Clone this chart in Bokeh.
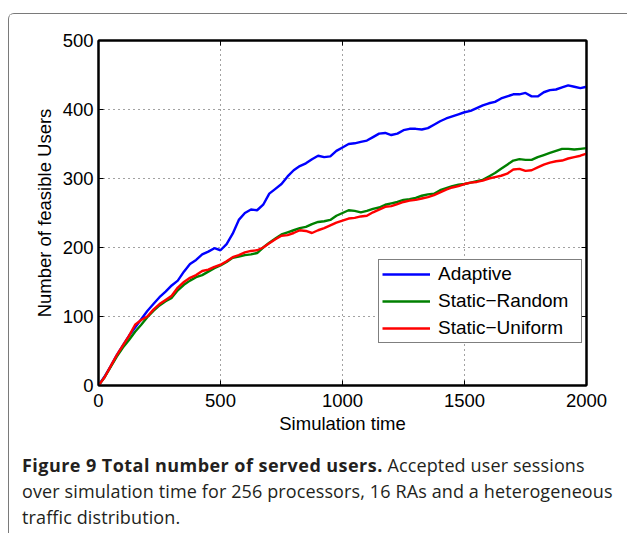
from bokeh.plotting import figure
from bokeh.layouts import column
from bokeh.models import (Range1d, LinearAxis, Legend, LegendItem, Div,
                          FixedTicker, ColumnDataSource)
from bokeh.embed import file_html
from bokeh.resources import INLINE

# ---- data ----
sim_time = [0, 25, 50, 75, 100, 125, 150, 175, 200, 225, 250, 275, 300, 325, 350, 375,
            400, 425, 450, 475, 500, 525, 550, 575, 600, 625, 650, 675, 700, 725, 750,
            775, 800, 825, 850, 875, 900, 925, 950, 975, 1000, 1025, 1050, 1075, 1100,
            1125, 1150, 1175, 1200, 1225, 1250, 1275, 1300, 1325, 1350, 1375, 1400, 1425,
            1450, 1475, 1500, 1525, 1550, 1575, 1600, 1625, 1650, 1675, 1700, 1725, 1750,
            1775, 1800, 1825, 1850, 1875, 1900, 1925, 1950, 1975, 2000]

adaptive = [0, 13, 28, 44, 58, 72, 84, 96, 108, 118, 128, 136, 145, 152, 165, 176,
            182, 190, 194, 199, 196, 205, 220, 240, 250, 255, 254, 262, 278, 285, 292,
            303, 312, 318, 322, 328, 333, 331, 332, 340, 345, 350, 351, 353, 355,
            360, 365, 366, 363, 365, 370, 372, 372, 371, 373, 378, 383, 387,
            390, 393, 396, 398, 402, 406, 409, 411, 416, 419, 422, 422, 424,
            419, 419, 425, 428, 429, 432, 435, 433, 431, 433]

static_random = [0, 12, 27, 42, 55, 66, 78, 88, 99, 108, 116, 122, 127, 138, 146, 152,
                 157, 160, 165, 170, 174, 179, 185, 187, 189, 190, 192, 200, 207, 213, 219,
                 222, 225, 228, 230, 234, 237, 238, 240, 246, 250, 254, 253, 251, 253,
                 256, 258, 262, 264, 266, 269, 270, 272, 275, 277, 278, 283, 286,
                 289, 291, 292, 294, 296, 298, 303, 308, 314, 320, 326, 328, 327,
                 327, 331, 334, 337, 340, 343, 343, 342, 343, 344]

static_uniform = [0, 12, 28, 44, 58, 72, 88, 95, 100, 110, 118, 124, 130, 142, 150, 156,
                  160, 166, 168, 172, 175, 180, 186, 189, 193, 195, 196, 200, 206, 212, 217,
                  218, 221, 225, 224, 221, 225, 228, 232, 236, 239, 242, 243, 245, 246,
                  251, 255, 259, 260, 263, 266, 268, 269, 271, 273, 276, 280, 284,
                  287, 289, 292, 294, 295, 297, 300, 302, 304, 307, 313, 314, 311,
                  312, 316, 320, 323, 325, 326, 329, 331, 333, 336]

series_names = ["Adaptive", "Static\u2212Random", "Static\u2212Uniform"]
series_colors = ["#0000ff", "#008000", "#ff0000"]

x_ticks = [0, 500, 1000, 1500, 2000]
y_ticks = [0, 100, 200, 300, 400, 500]

x_label = "Simulation time"
y_label = "Number of feasible Users"
caption_bold = "Figure 9 Total number of served users."
caption_rest = "Accepted user sessions"
caption_line2 = "over simulation time for 256 processors, 16 RAs and a heterogeneous"
caption_line3 = "traffic distribution."

FONT = "Liberation Sans"
FS = "18.5px"

# page box origin (border drawn by CSS at page x=8, y=13)
OX, OY = 9, 14
W = 611
CH = 431          # chart canvas height
FL, FT, FW, FH = 98 - OX, 40 - OY, 488, 345

source = ColumnDataSource(dict(t=sim_time, a=adaptive, r=static_random, u=static_uniform))

p = figure(width=W, height=CH, output_backend="svg", toolbar_location=None,
           x_range=Range1d(0, 2000), y_range=Range1d(0, 500),
           min_border_left=FL, min_border_right=W - FL - FW, min_border_top=FT,
           min_border_bottom=CH - FT - FH, background_fill_color="white",
           border_fill_color="white")

p.outline_line_color = "black"
p.outline_line_width = 2

# grid
for g in (p.xgrid, p.ygrid):
    g.grid_line_color = "#444444"
    g.grid_line_dash = "1 4"
    g.grid_line_width = 1
p.xgrid.ticker = FixedTicker(ticks=x_ticks)
p.ygrid.ticker = FixedTicker(ticks=y_ticks)

# main axes
p.xaxis.ticker = FixedTicker(ticks=x_ticks)
p.yaxis.ticker = FixedTicker(ticks=y_ticks)
for ax in (p.xaxis[0], p.yaxis[0]):
    ax.major_tick_in = 5
    ax.major_tick_out = 0
    ax.minor_tick_line_color = None
    ax.axis_line_width = 2
    ax.major_tick_line_width = 1
    ax.major_label_text_font = FONT
    ax.major_label_text_font_size = FS
    ax.major_label_text_color = "black"
    ax.axis_label_text_font = FONT
    ax.axis_label_text_font_size = FS
    ax.axis_label_text_font_style = "normal"
    ax.axis_label_text_color = "black"
p.xaxis.axis_label = x_label
p.yaxis.axis_label = y_label
p.xaxis.major_label_standoff = 8
p.xaxis.axis_label_standoff = 3
p.yaxis.major_label_standoff = 5
p.yaxis.axis_label_standoff = 5

# mirrored axes (ticks only)
top_ax = LinearAxis(ticker=FixedTicker(ticks=x_ticks))
right_ax = LinearAxis(ticker=FixedTicker(ticks=y_ticks))
for ax in (top_ax, right_ax):
    ax.major_tick_in = 5
    ax.major_tick_out = 0
    ax.minor_tick_line_color = None
    ax.axis_line_width = 2
    ax.major_label_text_font_size = "0px"
    ax.major_label_text_color = None
    ax.major_label_standoff = 0
p.add_layout(top_ax, "above")
p.add_layout(right_ax, "right")

# lines
r_a = p.line("t", "a", source=source, line_color=series_colors[0], line_width=2.4)
r_r = p.line("t", "r", source=source, line_color=series_colors[1], line_width=2.4)
r_u = p.line("t", "u", source=source, line_color=series_colors[2], line_width=2.4)

legend = Legend(items=[LegendItem(label=series_names[0], renderers=[r_a]),
                       LegendItem(label=series_names[1], renderers=[r_r]),
                       LegendItem(label=series_names[2], renderers=[r_u])],
                location=(280, 42))
legend.border_line_color = "black"
legend.border_line_width = 1
legend.background_fill_color = "white"
legend.background_fill_alpha = 1
legend.label_text_font = FONT
legend.label_text_font_size = "19px"
legend.label_text_color = "black"
legend.glyph_width = 48
legend.glyph_height = 20
legend.label_height = 20
legend.label_width = 140
legend.label_standoff = 8
legend.padding = 3
legend.spacing = 5
legend.margin = 0
p.add_layout(legend)

# caption (real HTML text below the chart)
caption_html = (
    '<div style="padding:7px 0 0 13px; font-family:\'Open Sans\', sans-serif; '
    'font-size:18px; line-height:26px; color:#231f20; white-space:nowrap; margin:0; '
    'letter-spacing:0.12px;">'
    '<span style="font-weight:bold; letter-spacing:0.45px;">' + caption_bold + '</span> '
    + caption_rest + '<br>' + caption_line2 + '<br>' + caption_line3 + '</div>'
)
cap = Div(text=caption_html, width=618, height=88, margin=0)

page = column(p, cap, spacing=0, margin=(13, 0, 0, 8),
              styles={"border-left": "1px solid #7a7a7a",
                      "border-top": "1px solid #7a7a7a",
                      "border-top-left-radius": "6px"})

open("out.html", "w").write(file_html(page, INLINE))
